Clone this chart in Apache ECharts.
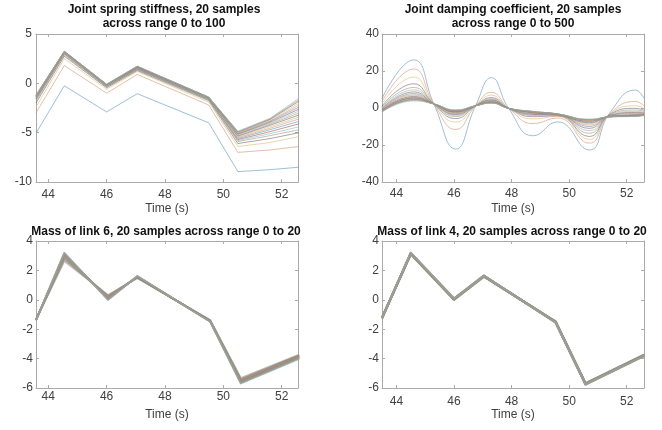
<!DOCTYPE html>
<html>
<head>
<meta charset="utf-8">
<script src="https://cdn.jsdelivr.net/npm/echarts@6/dist/echarts.min.js"></script>
<style>
html,body{margin:0;padding:0;background:#fff;}
#c{width:662px;height:430px;}
</style>
</head>
<body>
<div id="c"></div>
<script>
// ---------- data ----------
const xTicks = [44, 46, 48, 50, 52];
const xLabel = 'Time (s)';
const titles = [
  'Joint spring stiffness, 20 samples\nacross range 0 to 100',
  'Joint damping coefficient, 20 samples\nacross range 0 to 500',
  'Mass of link 6, 20 samples across range 0 to 20',
  'Mass of link 4, 20 samples across range 0 to 20'
];

// Panel 1: joint spring stiffness
const stiffX = [43.58, 44.55, 46.0, 47.05, 49.5, 50.5, 51.6, 52.6];
const stiffY = [
  [-5.05, -0.25, -2.9, -1.05, -4.0, -8.95, -8.75, -8.5],
  [-3.0, 1.8, -1.0, 0.9, -2.2, -7.0, -6.75, -6.4],
  [-2.4, 2.5, -0.6, 1.2, -1.9, -6.4, -6.0, -5.4],
  [-2.0, 2.75, -0.45, 1.3, -1.75, -6.1, -5.6, -5.0],
  [-1.8, 2.85, -0.4, 1.35, -1.7, -5.9, -5.3, -4.7],
  [-1.7, 2.95, -0.35, 1.4, -1.65, -5.8, -5.1, -4.4],
  [-1.6, 3.0, -0.3, 1.45, -1.6, -5.7, -4.9, -4.1],
  [-1.55, 3.05, -0.3, 1.5, -1.6, -5.6, -4.7, -3.85],
  [-1.5, 3.1, -0.25, 1.5, -1.55, -5.5, -4.55, -3.6],
  [-1.45, 3.1, -0.25, 1.55, -1.55, -5.45, -4.4, -3.4],
  [-1.4, 3.15, -0.2, 1.55, -1.5, -5.35, -4.25, -3.2],
  [-1.4, 3.15, -0.2, 1.6, -1.5, -5.3, -4.15, -3.0],
  [-1.35, 3.2, -0.2, 1.6, -1.5, -5.2, -4.05, -2.8],
  [-1.3, 3.2, -0.15, 1.65, -1.45, -5.15, -3.95, -2.6],
  [-1.3, 3.2, -0.15, 1.65, -1.45, -5.1, -3.85, -2.4],
  [-1.25, 3.2, -0.15, 1.7, -1.45, -5.05, -3.8, -2.2],
  [-1.25, 3.25, -0.1, 1.7, -1.4, -5.0, -3.7, -2.0],
  [-1.2, 3.25, -0.1, 1.7, -1.4, -4.95, -3.65, -1.8],
  [-1.2, 3.25, -0.1, 1.75, -1.4, -4.9, -3.6, -1.65],
  [-1.2, 3.25, -0.1, 1.75, -1.4, -4.85, -3.55, -1.5]
];

// Panel 2: joint damping coefficient
const dampX = [43.5, 44.6, 45.3, 46.06, 46.75, 47.3, 47.9, 48.75, 49.6, 50.7, 51.4, 52.3, 52.6];
const dampY = [
  [5.2, 26, 2.2, -22.2, 1.2, 16.4, -0.2, -15, -7.5, -22.7, -2.9, 9.7, 5.2],
  [3.6, 21.1, 2.2, -11.6, 1.2, 8.5, -0.2, -8.4, -5.4, -19.0, -3.3, 3.5, 1.2],
  [2.2, 16.7, 2.2, -7.6, 1.2, 6.9, -0.2, -5.9, -4.5, -17.0, -3.5, 1.2, -0.3],
  [1.0, 13.1, 2.2, -5.7, 1.2, 5.6, -0.2, -4.7, -4.2, -15.4, -3.7, -0.2, -1.2],
  [0.4, 11.1, 2.2, -4.6, 1.2, 5.0, -0.2, -4.0, -3.9, -13.7, -3.9, -1.1, -1.8],
  [-0.1, 9.8, 2.2, -4.0, 1.2, 4.5, -0.2, -3.7, -3.8, -12.3, -4.1, -1.8, -2.3],
  [-0.4, 8.7, 2.2, -3.5, 1.2, 4.3, -0.2, -3.4, -3.7, -11.0, -4.2, -2.4, -2.6],
  [-0.7, 7.8, 2.2, -3.1, 1.2, 4.0, -0.2, -3.1, -3.6, -10.0, -4.3, -2.8, -2.9],
  [-0.9, 7.1, 2.2, -2.8, 1.2, 3.8, -0.2, -2.9, -3.6, -9.2, -4.4, -3.1, -3.1],
  [-1.1, 6.7, 2.2, -2.5, 1.2, 3.6, -0.2, -2.7, -3.5, -8.5, -4.5, -3.4, -3.3],
  [-1.2, 6.2, 2.2, -2.3, 1.2, 3.4, -0.2, -2.6, -3.5, -8.0, -4.6, -3.6, -3.4],
  [-1.4, 5.8, 2.2, -2.1, 1.2, 3.3, -0.2, -2.5, -3.4, -7.7, -4.6, -3.8, -3.5],
  [-1.5, 5.6, 2.2, -2.0, 1.2, 3.2, -0.2, -2.4, -3.4, -7.3, -4.6, -3.9, -3.6],
  [-1.6, 5.4, 2.2, -1.9, 1.2, 3.1, -0.2, -2.3, -3.4, -7.1, -4.7, -4.1, -3.7],
  [-1.7, 5.1, 2.2, -1.7, 1.2, 3.0, -0.2, -2.2, -3.3, -6.8, -4.7, -4.2, -3.8],
  [-1.8, 4.9, 2.2, -1.6, 1.2, 2.9, -0.2, -2.1, -3.3, -6.7, -4.7, -4.3, -3.9],
  [-1.9, 4.7, 2.2, -1.4, 1.2, 2.8, -0.2, -2.0, -3.2, -6.5, -4.8, -4.4, -3.9],
  [-2.0, 4.5, 2.2, -1.3, 1.2, 2.7, -0.2, -1.9, -3.2, -6.3, -4.8, -4.4, -3.9],
  [-2.1, 4.2, 2.2, -1.1, 1.2, 2.7, -0.2, -1.9, -3.2, -6.2, -4.8, -4.5, -4.0],
  [-2.2, 3.8, 2.2, -1.0, 1.2, 2.6, -0.2, -1.8, -3.2, -6.0, -4.8, -4.5, -4.0]
];

// Panel 3: mass of link 6
const mass6X = [43.58, 44.55, 46.05, 47.05, 49.55, 50.6, 52.6];
const mass6Y = [
  [-1.35, 2.62, 0.32, 1.48, -1.38, -5.32, -3.72],
  [-1.35, 2.68, 0.30, 1.49, -1.39, -5.35, -3.74],
  [-1.35, 2.74, 0.28, 1.50, -1.40, -5.38, -3.76],
  [-1.35, 2.79, 0.26, 1.51, -1.41, -5.41, -3.77],
  [-1.36, 2.84, 0.24, 1.52, -1.42, -5.44, -3.79],
  [-1.36, 2.88, 0.22, 1.53, -1.42, -5.46, -3.81],
  [-1.36, 2.92, 0.20, 1.54, -1.43, -5.48, -3.82],
  [-1.36, 2.95, 0.18, 1.54, -1.43, -5.50, -3.84],
  [-1.37, 2.98, 0.16, 1.55, -1.44, -5.52, -3.85],
  [-1.37, 3.01, 0.14, 1.56, -1.44, -5.54, -3.87],
  [-1.37, 3.04, 0.12, 1.56, -1.45, -5.56, -3.88],
  [-1.37, 3.06, 0.10, 1.57, -1.45, -5.57, -3.90],
  [-1.38, 3.08, 0.08, 1.58, -1.46, -5.59, -3.91],
  [-1.38, 3.10, 0.07, 1.58, -1.46, -5.60, -3.93],
  [-1.38, 3.12, 0.05, 1.59, -1.47, -5.62, -3.94],
  [-1.38, 3.14, 0.04, 1.60, -1.47, -5.63, -3.96],
  [-1.39, 3.16, 0.02, 1.60, -1.48, -5.65, -3.97],
  [-1.39, 3.17, 0.01, 1.61, -1.48, -5.66, -3.99],
  [-1.39, 3.19, 0.00, 1.61, -1.49, -5.68, -4.00],
  [-1.40, 3.21, -0.02, 1.62, -1.49, -5.70, -4.02]
];

// Panel 4: mass of link 4
const mass4X = [43.5, 44.5, 46.0, 47.04, 49.53, 50.57, 52.6];
const mass4Y = [
  [-1.22, 3.10, 0.00, 1.58, -1.48, -5.68, -3.74],
  [-1.22, 3.11, 0.00, 1.58, -1.48, -5.68, -3.74],
  [-1.22, 3.11, 0.01, 1.59, -1.49, -5.69, -3.75],
  [-1.23, 3.12, 0.01, 1.59, -1.49, -5.69, -3.75],
  [-1.23, 3.12, 0.02, 1.59, -1.49, -5.70, -3.76],
  [-1.23, 3.13, 0.02, 1.60, -1.50, -5.70, -3.76],
  [-1.23, 3.13, 0.03, 1.60, -1.50, -5.71, -3.77],
  [-1.24, 3.14, 0.03, 1.60, -1.50, -5.71, -3.77],
  [-1.24, 3.14, 0.04, 1.61, -1.51, -5.72, -3.78],
  [-1.24, 3.15, 0.04, 1.61, -1.51, -5.72, -3.78],
  [-1.24, 3.15, 0.05, 1.62, -1.52, -5.73, -3.78],
  [-1.24, 3.16, 0.05, 1.62, -1.52, -5.73, -3.79],
  [-1.25, 3.16, 0.06, 1.62, -1.52, -5.74, -3.79],
  [-1.25, 3.17, 0.06, 1.63, -1.53, -5.74, -3.80],
  [-1.25, 3.17, 0.07, 1.63, -1.53, -5.75, -3.80],
  [-1.25, 3.18, 0.07, 1.63, -1.53, -5.75, -3.81],
  [-1.26, 3.18, 0.07, 1.64, -1.54, -5.75, -3.81],
  [-1.26, 3.19, 0.08, 1.64, -1.54, -5.76, -3.81],
  [-1.26, 3.19, 0.08, 1.65, -1.55, -5.76, -3.82],
  [-1.26, 3.20, 0.08, 1.65, -1.55, -5.76, -3.82]
];

// muted line-order colours
const lineColors = ['#5f95bb', '#d49472', '#d8bd78', '#7e5f80', '#9aa068', '#8fb5c6', '#945a58'];

// ---------- layout ----------
const panels = [
  {grid: {left: 36, top: 34, width: 262, height: 148}, xMin: 43.58, xMax: 52.56, yMin: -10, yMax: 5, yInt: 5,
   xs: stiffX, rows: stiffY, smooth: false, xMargin: 7, yMargin: 4, titleTop: 3, titleX: 164, lw: 1, op: 0.6},
  {grid: {left: 382, top: 34, width: 262, height: 148}, xMin: 43.5, xMax: 52.6, yMin: -40, yMax: 40, yInt: 20,
   xs: dampX, rows: dampY, smooth: 0.5, xMargin: 6, yMargin: 3, titleTop: 3, titleX: 513, lw: 1, op: 0.6},
  {grid: {left: 36, top: 241, width: 262, height: 147}, xMin: 43.58, xMax: 52.56, yMin: -6, yMax: 4, yInt: 2,
   xs: mass6X, rows: mass6Y, smooth: false, xMargin: 3, yMargin: 3, titleTop: 225, titleX: 166, lw: 1.8, op: 0.45},
  {grid: {left: 382, top: 241, width: 262, height: 147}, xMin: 43.5, xMax: 52.6, yMin: -6, yMax: 4, yInt: 2,
   xs: mass4X, rows: mass4Y, smooth: false, xMargin: 8, yMargin: 3, titleTop: 225, titleX: 512, lw: 2.2, op: 0.4}
];

const FONT = '"Liberation Sans", Arial, sans-serif';
const axisCol = '#aaaaaa';
const labelCol = '#404040';
const fmt = v => String(v);

const option = {
  animation: false,
  backgroundColor: '#fff',
  title: [], grid: [], xAxis: [], yAxis: [], series: []
};

panels.forEach((p, i) => {
  option.title.push({
    text: titles[i], left: p.titleX, top: p.titleTop, textAlign: 'center', padding: 0,
    textStyle: {fontFamily: FONT, fontSize: 12, fontWeight: 'bold', color: '#111', lineHeight: 14}
  });
  option.grid.push(Object.assign({containLabel: false}, p.grid));
  const axLine = {show: true, onZero: false, lineStyle: {color: axisCol, width: 1}};
  const tick = {show: true, inside: true, length: 3, lineStyle: {color: axisCol}};
  option.xAxis.push({
    gridIndex: i, type: 'value', position: 'bottom', min: p.xMin, max: p.xMax,
    axisLine: axLine, splitLine: {show: false},
    axisTick: Object.assign({customValues: xTicks}, tick),
    axisLabel: {customValues: xTicks, formatter: fmt, color: labelCol, fontFamily: FONT, fontSize: 12, margin: p.xMargin},
    name: xLabel, nameLocation: 'middle', nameGap: 21,
    nameTextStyle: {color: labelCol, fontFamily: FONT, fontSize: 12}
  });
  option.yAxis.push({
    gridIndex: i, type: 'value', position: 'left', min: p.yMin, max: p.yMax, interval: p.yInt,
    axisLine: axLine, splitLine: {show: false}, axisTick: tick,
    axisLabel: {formatter: fmt, color: labelCol, fontFamily: FONT, fontSize: 12, margin: p.yMargin}
  });
  p.rows.forEach((row, k) => {
    option.series.push({
      type: 'line', xAxisIndex: i, yAxisIndex: i,
      data: p.xs.map((x, j) => [x, row[j]]),
      showSymbol: false, symbol: 'none', smooth: p.smooth,
      silent: true, clip: true,
      lineStyle: {width: p.lw, color: lineColors[k % 7], opacity: p.op, join: 'round'}
    });
  });
});
panels.forEach((p, i) => {
  const axLine = {show: true, onZero: false, lineStyle: {color: axisCol, width: 1}};
  const tick = {show: true, inside: true, length: 3, lineStyle: {color: axisCol}};
  option.xAxis.push({
    gridIndex: i, type: 'value', position: 'top', min: p.xMin, max: p.xMax,
    axisLine: axLine, splitLine: {show: false},
    axisTick: Object.assign({customValues: xTicks}, tick),
    axisLabel: {show: false}
  });
  option.yAxis.push({
    gridIndex: i, type: 'value', position: 'right', min: p.yMin, max: p.yMax, interval: p.yInt,
    axisLine: axLine, splitLine: {show: false}, axisTick: tick,
    axisLabel: {show: false}
  });
});

const chart = echarts.init(document.getElementById('c'), null, {renderer: 'canvas'});
chart.setOption(option);
</script>
</body>
</html>
